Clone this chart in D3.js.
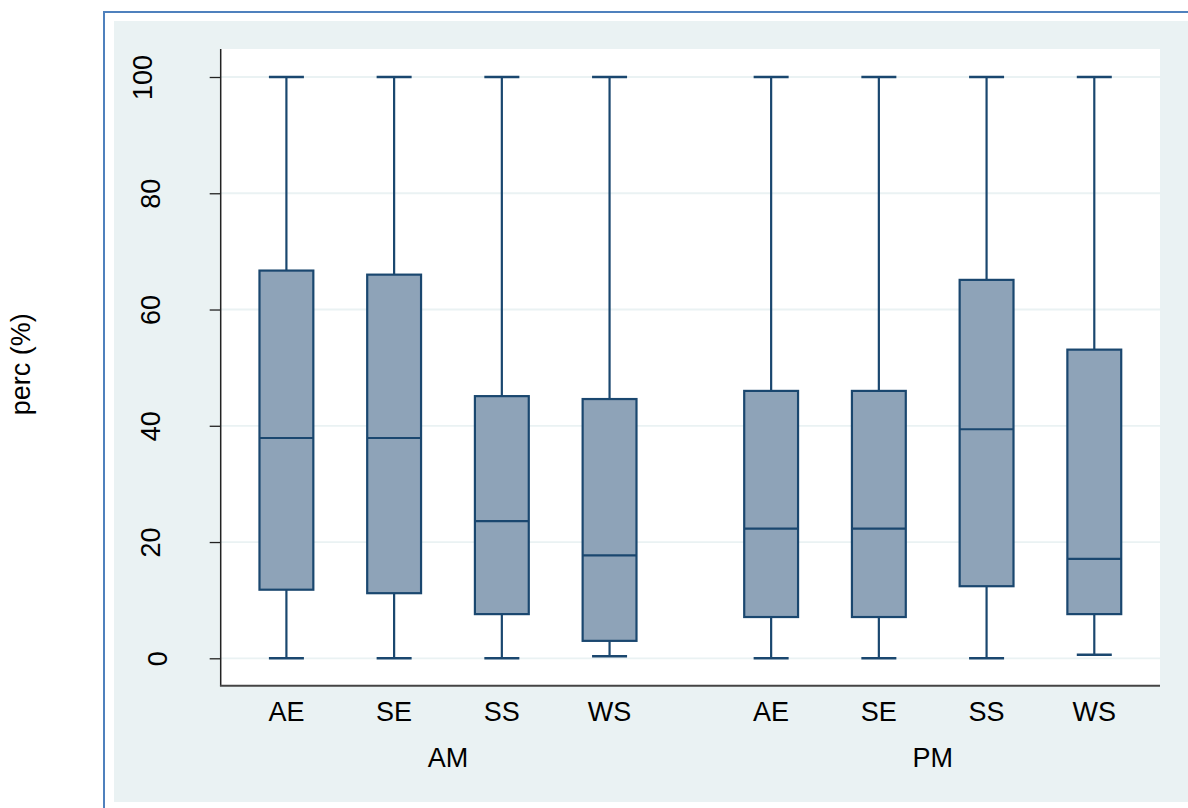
<!DOCTYPE html>
<html>
<head>
<meta charset="utf-8">
<script src="https://cdn.jsdelivr.net/npm/d3@7"></script>
<style>
  html, body { margin: 0; padding: 0; background: #ffffff; }
  svg { display: block; font-family: "Liberation Sans", Arial, Helvetica, sans-serif; }
</style>
</head>
<body>
<svg id="chart" width="1188" height="808"></svg>
<script>
// Box-plot summaries of perc (%) by session and category
const groups = ["AM", "PM"];
const categories = ["AE", "SE", "SS", "WS"];

const lowerWhisker = { AM: [0, 0, 0, 0.35], PM: [0, 0, 0, 0.6] };
const q1 =           { AM: [11.8, 11.2, 7.6, 3.0], PM: [7.1, 7.1, 12.4, 7.6] };
const median =       { AM: [37.9, 37.9, 23.6, 17.7], PM: [22.3, 22.3, 39.4, 17.1] };
const q3 =           { AM: [66.7, 66.0, 45.1, 44.6], PM: [46.0, 46.0, 65.1, 53.1] };
const upperWhisker = { AM: [100, 100, 100, 100], PM: [100, 100, 100, 100] };

const yTicks = [0, 20, 40, 60, 80, 100];
const yTitle = "perc (%)";

// Flatten into one record per box
const boxes = [];
groups.forEach((g, gi) => {
  categories.forEach((c, ci) => {
    boxes.push({
      group: g, cat: c, slot: gi * (categories.length + 0.5) + ci,
      lo: lowerWhisker[g][ci], q1: q1[g][ci], med: median[g][ci],
      q3: q3[g][ci], hi: upperWhisker[g][ci]
    });
  });
});

const svg = d3.select("#chart");

// Plot region
const plot = { left: 220.7, right: 1160, top: 49, bottom: 685.7 };

const x = d3.scaleLinear().domain([-0.61, 8.11]).range([plot.left, plot.right]);
const y = d3.scaleLinear().domain([0, 100]).range([658.3, 77]);
const unit = x(1) - x(0);

const navy = "#1a476f";
const boxFill = "#8ea3b8";
const bgTint = "#eaf2f3";

// Outer graph region and frame
svg.append("rect").attr("x", 114).attr("y", 21).attr("width", 1074).attr("height", 781)
  .attr("fill", bgTint);
svg.append("path").attr("d", "M104,808V12H1188")
  .attr("fill", "none").attr("stroke", "#4f81bd").attr("stroke-width", 2);

// Inner plot region
svg.append("rect").attr("x", plot.left).attr("y", plot.top)
  .attr("width", plot.right - plot.left).attr("height", plot.bottom - plot.top)
  .attr("fill", "#ffffff");

// Horizontal grid lines
svg.append("g").selectAll("line").data(yTicks).join("line")
  .attr("x1", plot.left).attr("x2", plot.right)
  .attr("y1", d => y(d)).attr("y2", d => y(d))
  .attr("stroke", bgTint).attr("stroke-width", 1.8);

// Y axis: labels are right-aligned as if horizontal, then turned about their centre
const labelRight = 165;
const yAxis = d3.axisLeft(y).tickValues(yTicks).tickSize(11).tickPadding(0).tickFormat(d3.format("d"));
const gy = svg.append("g").attr("transform", `translate(${plot.left},0)`).call(yAxis);
gy.select(".domain").remove();
gy.selectAll(".tick line").attr("stroke", "#222").attr("stroke-width", 1.3);
gy.selectAll(".tick text")
  .attr("fill", "#000")
  .style("font-size", "27px")
  .attr("text-anchor", "middle")
  .attr("dy", "0.36em")
  .attr("x", 0)
  .attr("y", 0)
  .attr("transform", function () {
    const w = this.getComputedTextLength();
    const cx = labelRight - w / 2 - plot.left;
    return `translate(${cx},0) rotate(-90)`;
  });

// Axis lines
svg.append("line").attr("x1", plot.left).attr("x2", plot.left)
  .attr("y1", plot.top).attr("y2", plot.bottom)
  .attr("stroke", "#222").attr("stroke-width", 1.5);
svg.append("line").attr("x1", plot.left - 0.75).attr("x2", plot.right)
  .attr("y1", plot.bottom).attr("y2", plot.bottom)
  .attr("stroke", "#444").attr("stroke-width", 2);

// Y title
svg.append("text")
  .attr("transform", `translate(29.5,${(plot.top + plot.bottom) / 2 - 3}) rotate(-90)`)
  .attr("text-anchor", "middle")
  .style("font-size", "27px")
  .attr("fill", "#000")
  .text(yTitle);

// Boxes
const gBox = svg.append("g");
const bw = unit * 0.5;
const cw = unit * 0.325;

boxes.forEach(b => {
  const cx = x(b.slot);
  const g = gBox.append("g");
  // whiskers
  g.append("line").attr("x1", cx).attr("x2", cx).attr("y1", y(b.q3)).attr("y2", y(b.hi))
    .attr("stroke", navy).attr("stroke-width", 2.2);
  g.append("line").attr("x1", cx).attr("x2", cx).attr("y1", y(b.q1)).attr("y2", y(b.lo))
    .attr("stroke", navy).attr("stroke-width", 2.2);
  g.append("line").attr("x1", cx - cw / 2).attr("x2", cx + cw / 2).attr("y1", y(b.hi)).attr("y2", y(b.hi))
    .attr("stroke", navy).attr("stroke-width", 2.4);
  g.append("line").attr("x1", cx - cw / 2).attr("x2", cx + cw / 2).attr("y1", y(b.lo)).attr("y2", y(b.lo))
    .attr("stroke", navy).attr("stroke-width", 2.4);
  // box
  g.append("rect").attr("x", cx - bw / 2).attr("y", y(b.q3))
    .attr("width", bw).attr("height", y(b.q1) - y(b.q3))
    .attr("fill", boxFill).attr("stroke", navy).attr("stroke-width", 2.2);
  // median
  g.append("line").attr("x1", cx - bw / 2).attr("x2", cx + bw / 2).attr("y1", y(b.med)).attr("y2", y(b.med))
    .attr("stroke", navy).attr("stroke-width", 2.2);
});

// Category labels
svg.append("g").selectAll("text").data(boxes).join("text")
  .attr("x", d => x(d.slot)).attr("y", 720.5)
  .attr("text-anchor", "middle").style("font-size", "27px").attr("fill", "#000")
  .text(d => d.cat);

// Group labels
svg.append("g").selectAll("text").data(groups).join("text")
  .attr("x", (g, gi) => d3.mean(boxes.filter(b => b.group === g), b => x(b.slot)))
  .attr("y", 766.5)
  .attr("text-anchor", "middle").style("font-size", "27px").attr("fill", "#000")
  .text(g => g);
</script>
</body>
</html>
